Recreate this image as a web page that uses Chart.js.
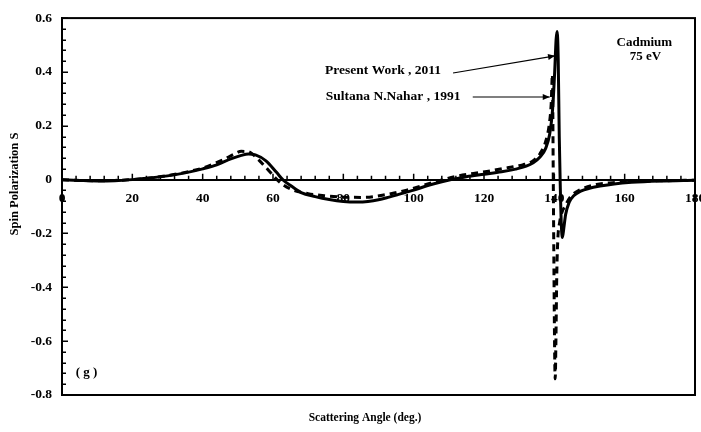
<!DOCTYPE html>
<html><head><meta charset="utf-8">
<script src="https://cdn.jsdelivr.net/npm/chart.js@4/dist/chart.umd.min.js"></script>
<style>html,body{margin:0;padding:0;background:#fff;}</style>
</head><body>
<canvas id="c" width="701" height="432"></canvas>
<script>
// ---- Data ----
const presentAngles = [0, 5, 10, 15, 20, 25, 30, 35, 40, 44, 48, 51, 53, 55, 58, 61, 63, 65, 68, 72, 76, 80, 84, 87, 90, 93, 96, 100, 104, 108, 111, 115, 120, 125, 129, 132, 134, 136, 137.5, 138.7, 139.5, 140.1, 140.5, 140.8, 141.1, 141.4, 141.7, 142.0, 142.3, 142.7, 143.2, 144.2, 145.5, 147.5, 150, 153, 157, 162, 170, 180];
const presentValues = [0, -0.003, -0.005, -0.004, 0.0, 0.006, 0.014, 0.025, 0.04, 0.055, 0.077, 0.09, 0.095, 0.092, 0.07, 0.027, -0.003, -0.022, -0.048, -0.063, -0.074, -0.081, -0.083, -0.081, -0.075, -0.065, -0.054, -0.039, -0.022, -0.008, 0.001, 0.011, 0.02, 0.029, 0.039, 0.05, 0.063, 0.085, 0.115, 0.17, 0.26, 0.4, 0.52, 0.55, 0.45, 0.16, -0.03, -0.17, -0.215, -0.18, -0.13, -0.085, -0.06, -0.043, -0.032, -0.024, -0.016, -0.01, -0.005, -0.002];

const naharAngles = [0, 5, 10, 15, 20, 25, 30, 35, 40, 43, 46, 49, 51, 53, 55, 58, 61, 63, 66, 70, 75, 80, 86, 92, 98, 104, 108, 112, 117, 122, 127, 131, 134, 136, 137.5, 138.5, 139.1, 139.45, 139.7, 139.9, 140.1, 140.25, 140.45, 140.7, 141.0, 141.5, 142.2, 143, 144.5, 147, 152, 158, 165, 180];
const naharValues = [0, -0.003, -0.004, -0.003, 0.0, 0.006, 0.015, 0.027, 0.043, 0.058, 0.075, 0.095, 0.105, 0.104, 0.085, 0.045, 0.002, -0.02, -0.04, -0.052, -0.06, -0.065, -0.066, -0.056, -0.039, -0.016, -0.001, 0.012, 0.023, 0.033, 0.045, 0.055, 0.07, 0.098, 0.14, 0.2, 0.28, 0.39, 0.0, -0.35, -0.65, -0.74, -0.6, -0.35, -0.22, -0.16, -0.12, -0.1, -0.065, -0.04, -0.018, -0.01, -0.006, -0.002];

const seriesNames = ['Present Work , 2011', 'Sultana N.Nahar , 1991'];
const xTickValues = [0, 20, 40, 60, 80, 100, 120, 140, 160, 180];
const xTickLabels = ['0', '20', '40', '60', '80', '100', '120', '140', '160', '180'];
const yTickValues = [-0.8, -0.6, -0.4, -0.2, 0, 0.2, 0.4, 0.6];
const yTickLabels = ['-0.8', '-0.6', '-0.4', '-0.2', '0', '0.2', '0.4', '0.6'];
const xMinorStep = 4;
const yMinorStep = 0.04;
const xTitle = 'Scattering Angle (deg.)';
const yTitle = 'Spin Polarization S';
const infoLines = ['Cadmium', '75 eV'];
const panelLabel = '( g )';

const FONT = 'Liberation Serif, "Times New Roman", serif';

const framePlugin = {
  id: 'frameTicks',
  afterDraw(chart) {
    const ctx = chart.ctx, ca = chart.chartArea, xs = chart.scales.x, ys = chart.scales.y;
    ctx.save();
    ctx.strokeStyle = '#000';
    ctx.lineWidth = 2;
    ctx.strokeRect(ca.left, ca.top, ca.right - ca.left, ca.bottom - ca.top);
    ctx.lineWidth = 1.5;
    ctx.beginPath();
    const ny = Math.round((ys.max - ys.min) / yMinorStep);
    for (let i = 0; i <= ny; i++) {
      const v = ys.min + i * yMinorStep;
      const py = Math.round(ys.getPixelForValue(v)) + 0.25;
      const major = (i % 5 === 0);
      ctx.moveTo(ca.left, py); ctx.lineTo(ca.left + (major ? 6 : 4), py);
    }
    const y0 = ys.getPixelForValue(0);
    const nx = Math.round((xs.max - xs.min) / xMinorStep);
    for (let i = 0; i <= nx; i++) {
      const v = xs.min + i * xMinorStep;
      const px = xs.getPixelForValue(v);
      const major = (v % 20 === 0);
      ctx.moveTo(px, y0 + (major ? 1 : 0)); ctx.lineTo(px, y0 - (major ? 6 : 4));
    }
    ctx.stroke();
    ctx.restore();
  }
};

function arrow(ctx, x1, y1, x2, y2) {
  ctx.beginPath(); ctx.moveTo(x1, y1); ctx.lineTo(x2, y2); ctx.stroke();
  const a = Math.atan2(y2 - y1, x2 - x1), L = 7, W = 3;
  ctx.beginPath();
  ctx.moveTo(x2, y2);
  ctx.lineTo(x2 - L * Math.cos(a) + W * Math.sin(a), y2 - L * Math.sin(a) - W * Math.cos(a));
  ctx.lineTo(x2 - L * Math.cos(a) - W * Math.sin(a), y2 - L * Math.sin(a) + W * Math.cos(a));
  ctx.closePath(); ctx.fill();
}

const annotPlugin = {
  id: 'annots',
  afterDraw(chart) {
    const ctx = chart.ctx, xs = chart.scales.x, ys = chart.scales.y;
    const X = v => xs.getPixelForValue(v), Y = v => ys.getPixelForValue(v);
    ctx.save();
    ctx.fillStyle = '#000'; ctx.strokeStyle = '#000'; ctx.lineWidth = 1.2;
    ctx.font = 'bold 13.5px ' + FONT;
    ctx.textBaseline = 'middle'; ctx.textAlign = 'left';
    ctx.fillText(seriesNames[0], X(74.8), Y(0.405));
    ctx.fillText(seriesNames[1], X(75.0), Y(0.307));
    arrow(ctx, X(111.2), Y(0.396), X(140.2), Y(0.46));
    arrow(ctx, X(116.8), Y(0.307), X(138.7), Y(0.307));
    ctx.textAlign = 'center';
    ctx.font = 'bold 13px ' + FONT;
    ctx.fillText(infoLines[0], X(165.6), Y(0.51));
    ctx.fillText(infoLines[1], X(165.9), Y(0.455));
    ctx.fillText(panelLabel, X(7.0), Y(-0.716));
    // axis titles
    ctx.font = 'bold 11.5px ' + FONT;
    ctx.fillText(xTitle, 365, 418);
    ctx.save();
    ctx.translate(15, 184);
    ctx.rotate(-Math.PI / 2);
    ctx.font = 'bold 12.5px ' + FONT;
    ctx.fillText(yTitle, 0, 0);
    ctx.restore();
    ctx.restore();
  }
};

new Chart(document.getElementById('c'), {
  type: 'line',
  data: {
    datasets: [
      {
        label: seriesNames[1],
        data: naharAngles.map((a, i) => ({x: a, y: naharValues[i]})),
        borderColor: '#000', borderWidth: 3, borderDash: [7, 5],
        pointRadius: 0, fill: false, cubicInterpolationMode: 'monotone'
      },
      {
        label: seriesNames[0],
        data: presentAngles.map((a, i) => ({x: a, y: presentValues[i]})),
        borderColor: '#000', borderWidth: 3,
        pointRadius: 0, fill: false, cubicInterpolationMode: 'monotone'
      }
    ]
  },
  options: {
    responsive: false,
    animation: false,
    layout: {padding: {left: 0, right: 6, top: 13.5, bottom: 37}},
    plugins: {legend: {display: false}, tooltip: {enabled: false}, title: {display: false}},
    scales: {
      x: {
        type: 'linear', min: 0, max: 180, position: {y: 0},
        afterBuildTicks: s => { s.ticks = xTickValues.map(v => ({value: v})); },
        afterFit: s => { s.paddingLeft = 0; s.paddingRight = 0; s.paddingTop = 0; s.paddingBottom = 0; },
        ticks: {
          callback: (v, i) => xTickLabels[i],
          font: {family: FONT, weight: 'bold', size: 13.5}, color: '#000',
          padding: 11, maxRotation: 0, autoSkip: false
        },
        grid: {display: true, drawOnChartArea: false, drawTicks: false},
        border: {display: true, color: '#000', width: 2}
      },
      y: {
        type: 'linear', min: -0.8, max: 0.6, position: 'left',
        afterBuildTicks: s => { s.ticks = yTickValues.map(v => ({value: v})); },
        afterFit: s => { s.width = 62; },
        ticks: {
          callback: (v, i) => yTickLabels[i],
          font: {family: FONT, weight: 'bold', size: 13.5}, color: '#000',
          padding: 10, autoSkip: false
        },
        grid: {display: true, drawOnChartArea: false, drawTicks: false},
        border: {display: true, color: '#000', width: 2}
      }
    }
  },
  plugins: [framePlugin, annotPlugin]
});
</script>
</body></html>
